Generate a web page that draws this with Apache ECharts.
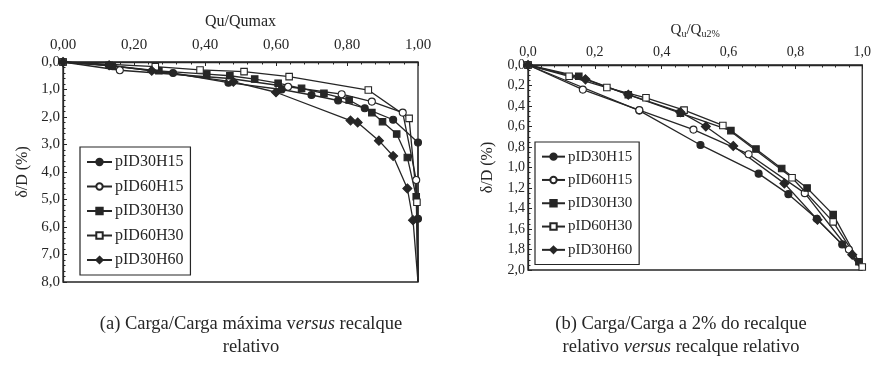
<!DOCTYPE html>
<html>
<head>
<meta charset="utf-8">
<script src="https://cdn.jsdelivr.net/npm/echarts@6/dist/echarts.min.js"></script>
<style>
  html, body { margin: 0; padding: 0; background: #fff; }
  #chart { width: 874px; height: 369px; }
</style>
</head>
<body>
<div id="chart"></div>
<script>
// Series names (legend order), marker shape and fill
const seriesNames = ['pID30H15', 'pID60H15', 'pID30H30', 'pID60H30', 'pID30H60'];
const seriesSymbols = ['circle', 'circle', 'rect', 'rect', 'diamond'];
const seriesHollow = [false, true, false, true, false];

// (a) Qu/Qumax vs. δ/D (%)
const aX_pID30H15 = [0, 0.14, 0.31, 0.466, 0.616, 0.70, 0.775, 0.85, 0.93, 1.0, 1.0, 1.0];
const aY_pID30H15 = [0, 0.15, 0.40, 0.75, 1.00, 1.20, 1.40, 1.68, 2.10, 2.93, 5.70, 8.0];
const aX_pID60H15 = [0, 0.16, 0.47, 0.634, 0.785, 0.87, 0.957, 0.995, 1.0];
const aY_pID60H15 = [0, 0.30, 0.60, 0.90, 1.17, 1.44, 1.84, 4.29, 8.0];
const aX_pID30H30 = [0, 0.13, 0.27, 0.405, 0.47, 0.54, 0.606, 0.672, 0.735, 0.806, 0.87, 0.90, 0.94, 0.97, 0.995, 1.0];
const aY_pID30H30 = [0, 0.12, 0.32, 0.44, 0.50, 0.62, 0.77, 0.96, 1.14, 1.38, 1.84, 2.17, 2.62, 3.47, 4.90, 8.0];
const aX_pID60H30 = [0, 0.26, 0.386, 0.51, 0.637, 0.86, 0.975, 0.997, 1.0];
const aY_pID60H30 = [0, 0.17, 0.29, 0.35, 0.53, 1.02, 2.05, 5.10, 8.0];
const aX_pID30H60 = [0, 0.13, 0.25, 0.48, 0.60, 0.81, 0.83, 0.89, 0.93, 0.97, 0.986, 1.0];
const aY_pID30H60 = [0, 0.12, 0.32, 0.72, 1.10, 2.13, 2.20, 2.86, 3.42, 4.60, 5.75, 8.0];

// (b) Qu/Qu2% vs. δ/D (%)
const bX_pID30H15 = [0, 0.333, 0.516, 0.69, 0.779, 0.864, 0.94, 1.0];
const bY_pID30H15 = [0, 0.445, 0.78, 1.06, 1.26, 1.50, 1.75, 2.0];
const bX_pID60H15 = [0, 0.164, 0.333, 0.495, 0.66, 0.828, 0.96, 1.0];
const bY_pID60H15 = [0, 0.24, 0.44, 0.63, 0.87, 1.25, 1.80, 2.0];
const bX_pID30H30 = [0, 0.152, 0.30, 0.456, 0.607, 0.682, 0.759, 0.835, 0.913, 0.99];
const bY_pID30H30 = [0, 0.11, 0.29, 0.47, 0.64, 0.82, 1.01, 1.20, 1.46, 1.92];
const bX_pID60H30 = [0, 0.123, 0.236, 0.353, 0.467, 0.583, 0.79, 0.913, 1.0];
const bY_pID60H30 = [0, 0.11, 0.22, 0.32, 0.44, 0.59, 1.10, 1.53, 1.97];
const bX_pID30H60 = [0, 0.172, 0.30, 0.456, 0.532, 0.614, 0.767, 0.866, 0.97, 1.0];
const bY_pID30H60 = [0, 0.14, 0.29, 0.46, 0.60, 0.79, 1.155, 1.51, 1.85, 2.0];

// Tick values
const aXTicks = [0, 0.2, 0.4, 0.6, 0.8, 1.0];
const aYTicks = [0, 1, 2, 3, 4, 5, 6, 7, 8];
const bXTicks = [0, 0.2, 0.4, 0.6, 0.8, 1.0];
const bYTicks = [0, 0.2, 0.4, 0.6, 0.8, 1.0, 1.2, 1.4, 1.6, 1.8, 2.0];

const aXs = [aX_pID30H15, aX_pID60H15, aX_pID30H30, aX_pID60H30, aX_pID30H60];
const aYs = [aY_pID30H15, aY_pID60H15, aY_pID30H30, aY_pID60H30, aY_pID30H60];
const bXs = [bX_pID30H15, bX_pID60H15, bX_pID30H30, bX_pID60H30, bX_pID30H60];
const bYs = [bY_pID30H15, bY_pID60H15, bY_pID30H30, bY_pID60H30, bY_pID30H60];

const ink = '#262626';
const serif = 'Liberation Serif';

// Curves meet in the bottom-right corner of the frame; no marker is drawn there.
function pairs(xs, ys, cornerX, cornerY) {
  return xs.map((x, i) => {
    const p = { value: [x, ys[i]] };
    if (x === cornerX && ys[i] === cornerY) p.symbolSize = 0;
    return p;
  });
}
function comma(v, d) { return v.toFixed(d).replace('.', ','); }

function makeSeries(xsList, ysList, gridIdx, size, cornerX, cornerY) {
  return seriesNames.map((name, i) => ({
    name: name,
    type: 'line',
    xAxisIndex: gridIdx,
    yAxisIndex: gridIdx,
    data: pairs(xsList[i], ysList[i], cornerX, cornerY),
    symbol: seriesSymbols[i],
    symbolSize: seriesSymbols[i] === 'diamond' ? size + 2 : (seriesSymbols[i] === 'rect' ? size - 0.5 : size),
    showAllSymbol: true,
    clip: false,
    lineStyle: { color: ink, width: 1.3 },
    itemStyle: { color: seriesHollow[i] ? '#ffffff' : ink, borderColor: ink, borderWidth: 1.1 },
    emphasis: { disabled: true },
    animation: false,
    z: 3
  }));
}

function valueAxis(opts) {
  return Object.assign({
    type: 'value',
    axisLine: { show: true, onZero: false, lineStyle: { color: ink, width: 1.3 } },
    axisTick: { show: true, inside: true, length: 4, lineStyle: { color: ink } },
    minorTick: { show: true, splitNumber: 5, length: 2.5, lineStyle: { color: ink } },
    splitLine: { show: false },
    nameLocation: 'middle'
  }, opts);
}

const captionRich = {
  n: { fontFamily: serif, fontSize: 18.5, fontWeight: 'normal', fill: ink, lineHeight: 23 },
  i: { fontFamily: serif, fontSize: 18.5, fontWeight: 'normal', fontStyle: 'italic', fill: ink, lineHeight: 23 }
};

function caption(cx, text) {
  return {
    type: 'text', z: 10,
    style: {
      x: cx, y: 313, align: 'center', verticalAlign: 'top',
      text: text, fontFamily: serif, fontSize: 18.5, fill: ink,
      rich: captionRich
    }
  };
}

const chart = echarts.init(document.getElementById('chart'), null, { renderer: 'canvas' });

const option = {
  backgroundColor: '#fff',
  animation: false,
  textStyle: { fontFamily: serif, color: ink },
  graphic: [
    caption(251, '{n|(a) Carga/Carga máxima v}{i|ersus}{n| recalque}\n{n|relativo}'),
    caption(681, '{n|(b) Carga/Carga a 2% do recalque}\n{n|relativo }{i|versus}{n| recalque relativo}')
  ],
  legend: [
    {
      data: seriesNames.map(n => ({ name: n })),
      orient: 'vertical',
      left: 80, top: 147,
      padding: [7, 7, 7, 6],
      itemGap: 8.5,
      itemWidth: 25, itemHeight: 8,
      borderColor: ink, borderWidth: 1.2,
      backgroundColor: '#fff',
      selectedMode: false,
      textStyle: { fontFamily: serif, fontSize: 16, color: ink, lineHeight: 16, padding: [0, 0, 0, -2] }
    },
    {
      data: seriesNames.map(n => ({ name: n })),
      orient: 'vertical',
      left: 535, top: 142,
      padding: [7, 7, 7, 6],
      itemGap: 8,
      itemWidth: 23, itemHeight: 8,
      borderColor: ink, borderWidth: 1.2,
      backgroundColor: '#fff',
      selectedMode: false,
      textStyle: { fontFamily: serif, fontSize: 15, color: ink, lineHeight: 15.3, padding: [0, 0, 0, -2] }
    }
  ],
  grid: [
    { left: 63, top: 62, width: 355, height: 220, show: true, borderColor: ink, borderWidth: 1.3, backgroundColor: 'transparent' },
    { left: 528, top: 65, width: 341, height: 205, show: true, borderColor: ink, borderWidth: 1.3, backgroundColor: 'transparent' }
  ],
  xAxis: [
    valueAxis({
      gridIndex: 0, position: 'top', min: aXTicks[0], max: aXTicks[aXTicks.length - 1], interval: 0.2,
      name: 'Qu/Qumax', nameGap: 32,
      nameTextStyle: { fontFamily: serif, fontSize: 16, color: ink },
      axisLabel: { fontFamily: serif, fontSize: 15, color: ink, margin: 9, formatter: v => comma(v, 2) }
    }),
    valueAxis({
      gridIndex: 1, position: 'top', min: bXTicks[0], max: bXTicks[bXTicks.length - 1], interval: 0.2,
      name: '{n|Q}{s|u}{n|/Q}{s|u2%}', nameGap: 26,
      nameTextStyle: {
        rich: {
          n: { fontFamily: serif, fontSize: 15, color: ink },
          s: { fontFamily: serif, fontSize: 10, color: ink, padding: [7, 0, 0, 0] }
        }
      },
      axisLabel: { fontFamily: serif, fontSize: 14, color: ink, margin: 6, formatter: v => comma(v, 1) }
    })
  ],
  yAxis: [
    valueAxis({
      gridIndex: 0, inverse: true, min: aYTicks[0], max: aYTicks[aYTicks.length - 1], interval: 1,
      name: 'δ/D (%)', nameGap: 32, nameRotate: 90,
      nameTextStyle: { fontFamily: serif, fontSize: 16, color: ink },
      axisLabel: { fontFamily: serif, fontSize: 15, color: ink, margin: 3, formatter: v => comma(v, 1) }
    }),
    valueAxis({
      gridIndex: 1, inverse: true, min: bYTicks[0], max: bYTicks[bYTicks.length - 1], interval: 0.2,
      name: 'δ/D (%)', nameGap: 32, nameRotate: 90,
      minorTick: { show: true, splitNumber: 4, length: 2.5, lineStyle: { color: ink } },
      nameTextStyle: { fontFamily: serif, fontSize: 16, color: ink },
      axisLabel: { fontFamily: serif, fontSize: 14, color: ink, margin: 3, formatter: v => comma(v, 1) }
    })
  ],
  series: [].concat(
    makeSeries(aXs, aYs, 0, 7, aXTicks[aXTicks.length - 1], aYTicks[aYTicks.length - 1]),
    makeSeries(bXs, bYs, 1, 7, bXTicks[bXTicks.length - 1], bYTicks[bYTicks.length - 1])
  )
};

chart.setOption(option);
</script>
</body>
</html>
